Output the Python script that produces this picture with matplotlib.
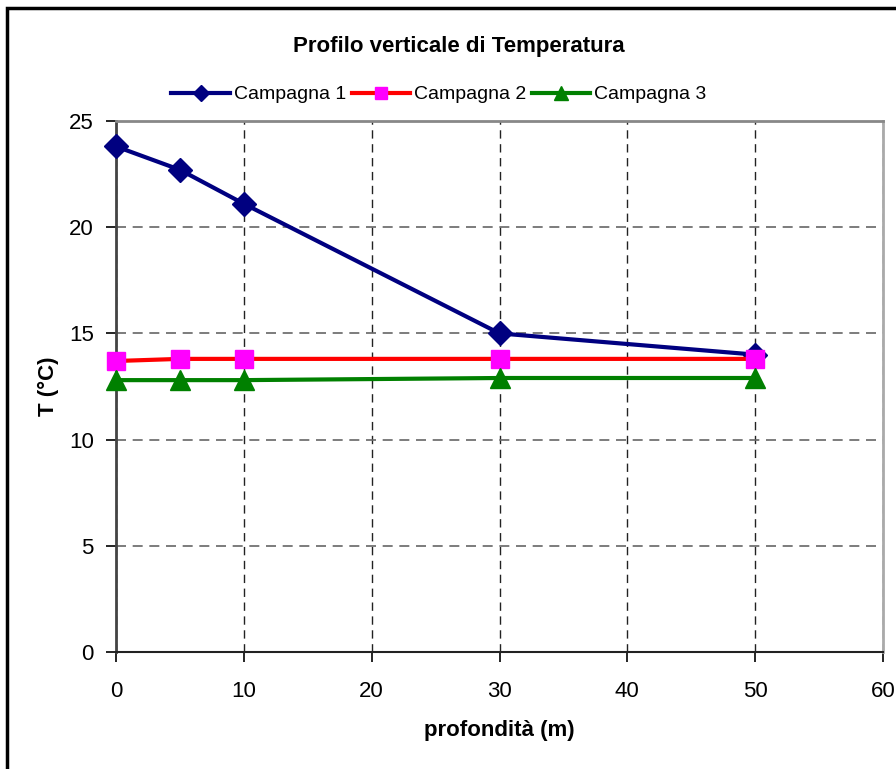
import matplotlib
matplotlib.use("Agg")
import matplotlib.pyplot as plt
from matplotlib.patches import Rectangle

plt.rcParams['font.family'] = ['Liberation Sans', 'DejaVu Sans']

# depth (m)
depth = [0, 5, 10, 30, 50]
# temperature per campaign (°C)
camp1 = [23.8, 22.7, 21.1, 15.0, 14.0]
camp2 = [13.7, 13.8, 13.8, 13.8, 13.8]
camp3 = [12.8, 12.8, 12.8, 12.9, 12.9]
labels = ['Campagna 1', 'Campagna 2', 'Campagna 3']

fig = plt.figure(figsize=(8.96, 7.69), dpi=100)
ax = fig.add_axes([0.1295, 0.1521, 0.856, 0.6906])

ax.plot(depth, camp1, color='#000080', lw=3, marker='D', ms=12, label=labels[0], clip_on=False, zorder=3)
ax.plot(depth, camp2, color='#ff0000', lw=3, marker='s', ms=13, mfc='#ff00ff', mec='#ff00ff', label=labels[1], clip_on=False, zorder=4)
ax.plot(depth, camp3, color='#008000', lw=3, marker='^', ms=14, label=labels[2], clip_on=False, zorder=5)

ax.set_xlim(0, 60)
ax.set_ylim(0, 25)
ax.set_xticks(range(0, 61, 10))
ax.set_yticks(range(0, 26, 5))
ax.tick_params(direction='out', length=7, width=1.2, labelsize=16)
ax.tick_params(axis='x', pad=14)
ax.tick_params(axis='y', pad=9)
ax.xaxis.grid(True, color='#222222', linestyle=(0, (6, 4)), lw=1)
ax.yaxis.grid(True, color='#666666', linestyle=(0, (6, 4)), lw=1.2)
ax.spines['left'].set_color('#444444')
ax.spines['left'].set_linewidth(2)
ax.spines['bottom'].set_color('#222222')
ax.spines['bottom'].set_linewidth(1.5)
ax.spines['top'].set_color('#888888')
ax.spines['top'].set_linewidth(2)
ax.spines['right'].set_color('#aaaaaa')
ax.spines['right'].set_linewidth(2)

ax.set_xlabel('profondità (m)', fontsize=16, fontweight='bold', labelpad=13)
ax.set_ylabel('T (°C)', fontsize=16, fontweight='bold', labelpad=7)

fig.text(0.512, 0.940, 'Profilo verticale di Temperatura', ha='center', va='center',
         fontsize=16, fontweight='bold')
fig.legend(loc='center', bbox_to_anchor=(0.49, 0.877), ncol=3, frameon=False,
           fontsize=14, handlelength=3, handletextpad=0.2, columnspacing=0.3,
           markerscale=0.7)

fig.add_artist(Rectangle((7 / 896, -0.05), 1.1, 1 - 8 / 769 + 0.05,
                         transform=fig.transFigure, fill=False, ec='black', lw=2.5))

fig.savefig('out.png', dpi=100)
